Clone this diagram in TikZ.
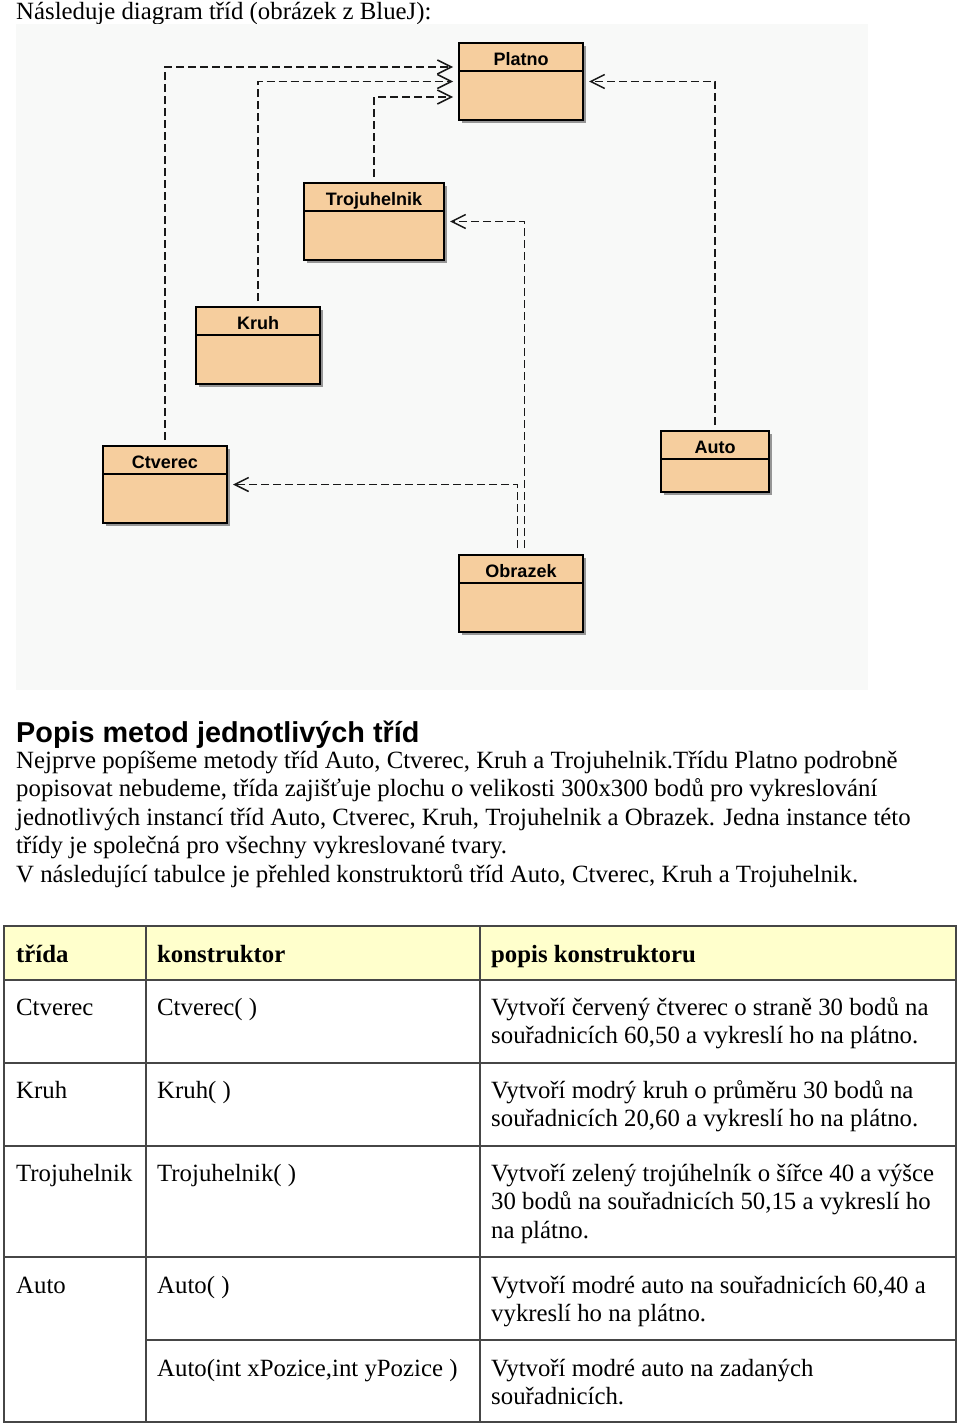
\documentclass[tikz,border=0pt]{standalone}
\usepackage{fontspec}
\setmainfont{Liberation Serif}
\newfontfamily\headfont{Liberation Sans}
\newfontfamily\boxfont{Liberation Sans}
\usetikzlibrary{arrows.meta}
\definecolor{classfill}{RGB}{246,206,158}
\definecolor{hdrfill}{RGB}{255,255,204}
\definecolor{diagbg}{RGB}{248,249,248}
\definecolor{tblline}{RGB}{70,70,70}
\definecolor{shadowc}{RGB}{150,150,150}
\tikzset{
  classbox/.style={draw=black, line width=1.8pt, fill=classfill, inner sep=0pt, outer sep=0pt, anchor=north west},
  classtitle/.style={font=\boxfont\bfseries\fontsize{18}{20}\selectfont, inner sep=0pt, anchor=base},
  dep/.style={draw=black!90, line width=1.7pt, dash pattern=on 8pt off 4pt,
    -{Straight Barb[length=14pt,width=14pt,line width=1.5pt]}},
  txt/.style={font=\fontsize{24.8}{28.5}\selectfont, inner sep=0pt, anchor=base west},
  hdr/.style={txt, font=\fontsize{24.8}{28.5}\selectfont\bfseries},
  tbl/.style={draw=tblline, line width=1.6pt},
}
\newcommand\umlclass[6]{%
  \fill[shadowc] (#2+3,#3+3) rectangle ++(#4,#5);
  \node[classbox, minimum width=#4pt, minimum height=#5pt] (#1) at (#2,#3) {};
  \draw[line width=1.5pt] ([yshift=-28pt]#1.north west) -- ([yshift=-28pt]#1.north east);
  \node[classtitle] (#1-t) at (#2+#4/2,#3+22.5) {#6};
}
\begin{document}
\begin{tikzpicture}[x=1pt,y=-1pt]
\useasboundingbox (0,0) rectangle (960,1424);
\fill[white] (0,0) rectangle (960,1424);
\node[txt] (intro) at (16,19.5) {Následuje diagram tříd (obrázek z BlueJ):};
\fill[diagbg] (16,24) rectangle (868,690);

\umlclass{platno}{459}{43}{124}{77}{Platno}
\umlclass{troj}{304}{183}{140}{77}{Trojuhelnik}
\umlclass{kruh}{196}{307}{124}{77}{Kruh}
\umlclass{ctverec}{103}{446}{124}{77}{Ctverec}
\umlclass{auto}{661}{431}{108}{61}{Auto}
\umlclass{obrazek}{459}{555}{124}{77}{Obrazek}

\draw[dep] ([yshift=6pt]ctverec.north) |- ([xshift=-6pt,yshift=14.5pt]platno.west);
\draw[dep] ([yshift=6pt]kruh.north) |- ([xshift=-6pt]platno.west);
\draw[dep] ([yshift=6pt]troj.north) |- ([xshift=-6pt,yshift=-15.5pt]platno.west);
\draw[dep] ([yshift=6pt]auto.north) |- ([xshift=6pt]platno.east);
\draw[dep] ([xshift=3.5pt,yshift=7pt]obrazek.north) |- ([xshift=6pt]troj.east);
\draw[dep] ([xshift=-3.5pt,yshift=7pt]obrazek.north) |- ([xshift=6pt]ctverec.east);

\node[inner sep=0pt, anchor=base west, font=\headfont\bfseries\fontsize{28.8}{30}\selectfont] (heading) at (16,742) {Popis metod jednotlivých tříd};
\node[txt] (p1) at (16,768) {Nejprve popíšeme metody tříd Auto, Ctverec, Kruh a Trojuhelnik.Třídu Platno podrobně};
\node[txt] (p2) at (16,796.5) {popisovat nebudeme, třída zajišťuje plochu o velikosti 300x300 bodů pro vykreslování};
\node[txt] (p3) at (16,825) {jednotlivých instancí tříd Auto, Ctverec, Kruh, Trojuhelnik a Obrazek. Jedna instance této};
\node[txt] (p4) at (16,853.5) {třídy je společná pro všechny vykreslované tvary.};
\node[txt] (p5) at (16,882) {V následující tabulce je přehled konstruktorů tříd Auto, Ctverec, Kruh a Trojuhelnik.};

% table
\fill[hdrfill] (4,926) rectangle (956,980);
\draw[tbl] (4,926) rectangle (956,1422);
\foreach \yy in {980,1063,1146,1257} \draw[tbl] (4,\yy) -- (956,\yy);
\draw[tbl] (146,1340) -- (956,1340);
\draw[tbl] (146,926) -- (146,1422);
\draw[tbl] (480,926) -- (480,1422);

\node[hdr] (h1) at (16,962) {třída};
\node[hdr] (h2) at (157,962) {konstruktor};
\node[hdr] (h3) at (491,962) {popis konstruktoru};

\node[txt] (c1a) at (16,1015) {Ctverec};
\node[txt] (c1b) at (157,1015) {Ctverec( )};
\node[txt] (c1c) at (491,1015) {Vytvoří červený čtverec o straně 30 bodů na};
\node[txt] (c1d) at (491,1043.5) {souřadnicích 60,50 a vykreslí ho na plátno.};

\node[txt] (c2a) at (16,1098) {Kruh};
\node[txt] (c2b) at (157,1098) {Kruh( )};
\node[txt] (c2c) at (491,1098) {Vytvoří modrý kruh o průměru 30 bodů na};
\node[txt] (c2d) at (491,1126.5) {souřadnicích 20,60 a vykreslí ho na plátno.};

\node[txt] (c3a) at (16,1181) {Trojuhelnik};
\node[txt] (c3b) at (157,1181) {Trojuhelnik( )};
\node[txt] (c3c) at (491,1181) {Vytvoří zelený trojúhelník o šířce 40 a výšce};
\node[txt] (c3d) at (491,1209.5) {30 bodů na souřadnicích 50,15 a vykreslí ho};
\node[txt] (c3e) at (491,1238) {na plátno.};

\node[txt] (c4a) at (16,1293) {Auto};
\node[txt] (c4b) at (157,1293) {Auto( )};
\node[txt] (c4c) at (491,1293) {Vytvoří modré auto na souřadnicích 60,40 a};
\node[txt] (c4d) at (491,1321.5) {vykreslí ho na plátno.};

\node[txt] (c5b) at (157,1376) {Auto(int xPozice,int yPozice )};
\node[txt] (c5c) at (491,1376) {Vytvoří modré auto na zadaných};
\node[txt] (c5d) at (491,1404.5) {souřadnicích.};
\end{tikzpicture}
\end{document}
